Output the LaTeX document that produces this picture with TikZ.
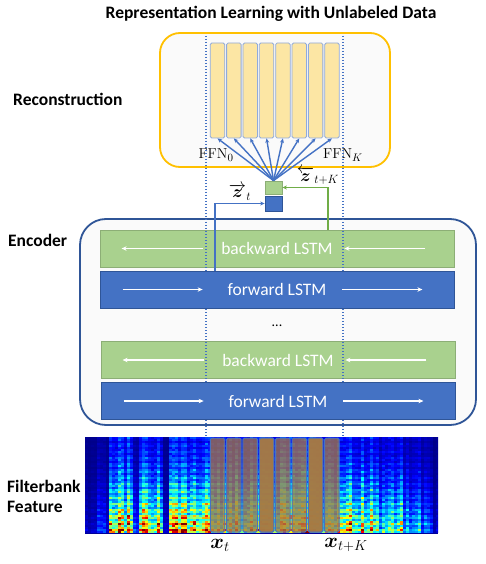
\documentclass[tikz,border=0pt]{standalone}
\usepackage[no-math]{fontspec}
\setmainfont{Carlito}
\usepackage{amsmath}
\usetikzlibrary{arrows.meta}
\definecolor{gfill}{HTML}{A9D18E}
\definecolor{gline}{HTML}{8CAE76}
\definecolor{bfill}{HTML}{4472C4}
\definecolor{bline}{HTML}{2F5597}
\definecolor{orng}{HTML}{FFC000}
\definecolor{ffnfill}{HTML}{FCE6A4}
\definecolor{ffnline}{HTML}{8FAADC}
\definecolor{grn}{HTML}{70AD47}
\definecolor{brwn}{HTML}{A57A45}
\definecolor{panel}{HTML}{FAFAFA}
\definecolor{specbg}{rgb}{0,0,0.6}
\begin{document}
\begin{tikzpicture}[x=1pt,y=-1pt,
  lbl/.style={font=\fontsize{17.5}{20}\selectfont\bfseries, inner sep=0pt},
  reconbox/.style={draw=orng, line width=1.8pt, fill=panel, rounded corners=20pt, minimum width=230pt, minimum height=134pt, inner sep=0pt},
  encbox/.style={draw=bline, line width=1.8pt, fill=panel, rounded corners=26pt, minimum width=396pt, minimum height=206pt, inner sep=0pt},
  bwdbox/.style={draw=gline, line width=0.8pt, fill=gfill, minimum width=354pt, minimum height=37pt, inner sep=0pt, text=white, font=\fontsize{17.5}{20}\selectfont},
  fwdbox/.style={draw=bline, line width=0.8pt, fill=bfill, minimum width=354pt, minimum height=37pt, inner sep=0pt, text=white, font=\fontsize{17.5}{20}\selectfont},
  ffnbox/.style={draw=ffnline, line width=0.8pt, fill=ffnfill, rounded corners=1.5pt, minimum width=14.5pt, minimum height=95pt, inner sep=0pt},
  ovlbox/.style={draw=bfill, line width=1pt, fill=brwn, fill opacity=0.76, rounded corners=1.5pt, minimum width=14.5pt, minimum height=94pt, inner sep=0pt},
  sqg/.style={draw=gline, line width=0.8pt, fill=gfill, minimum width=17pt, minimum height=13pt, inner sep=0pt},
  sqb/.style={draw=bline, line width=0.8pt, fill=bfill, minimum width=17pt, minimum height=15pt, inner sep=0pt},
  ffnarr/.style={draw=bfill, line width=1.4pt, -{Stealth[length=4.5pt,width=4pt]}},
  lstmarr/.style={draw=white, line width=1.3pt, -{Stealth[length=5pt,width=4.5pt]}},
  guide/.style={draw=bfill, line width=1.3pt, dash pattern=on 1.3pt off 1.7pt},
  mathlbl/.style={inner sep=0pt, font=\fontsize{15}{18}\selectfont}
]
\useasboundingbox (0,0) rectangle (486,564);
\fill[white] (0,0) rectangle (486,564);

% title
\node[lbl] (title) at (271,14) {Representation Learning with Unlabeled Data};

% left labels
\node[lbl, anchor=west] (lrec) at (13,99) {Reconstruction};
\node[lbl, anchor=west] (lenc) at (8,240) {Encoder};
\node[lbl, anchor=west] (lfb) at (7,486) {Filterbank};
\node[lbl, anchor=west] (lft) at (7,507) {Feature};

% reconstruction
\node[reconbox] (recon) at (275,100) {};
\foreach \i in {0,...,7}{
  \node[ffnbox] (f\i) at (217.5+16.35*\i,90.5) {};
}
\node[mathlbl] (ffn0) at (216,155) {$\mathrm{FFN}_0$};
\node[mathlbl] (ffnk) at (343,155) {$\mathrm{FFN}_K$};

% encoder
\node[encbox] (enc) at (278,322) {};
\node[bwdbox] (b1) at (277,248.5) {backward LSTM};
\node[fwdbox] (fw1) at (277,289.5) {forward LSTM};
\node[inner sep=0pt, font=\fontsize{14}{16}\selectfont] (dots) at (277,326) {...};
\node[bwdbox] (b2) at (278,360) {backward LSTM};
\node[fwdbox] (fw2) at (278,401) {forward LSTM};
\foreach \n in {b1,b2}{
  \draw[lstmarr] ([xshift=103pt]\n.west) -- ([xshift=22pt]\n.west);
  \draw[lstmarr] ([xshift=-29pt]\n.east) -- ([xshift=-110pt]\n.east);
}
\foreach \n in {fw1,fw2}{
  \draw[lstmarr] ([xshift=23pt]\n.west) -- ([xshift=103pt]\n.west);
  \draw[lstmarr] ([xshift=-112pt]\n.east) -- ([xshift=-32pt]\n.east);
}

% spectrogram
\pgfmathsetseed{11}
\begin{scope}
\clip (85,437) rectangle (438,534);
\fill[specbg] (85,437) rectangle (438,534);
\foreach \c in {0,...,117}{
  \pgfmathsetmacro\xx{85+3*\c}
  \pgfmathsetmacro\E{0.10
   + 0.12*((\xx>96)*(\xx<104))
   + 0.78*((\xx>107)*(\xx<132))
   + 0.12*((\xx>131)*(\xx<138))
   + 0.75*((\xx>137)*(\xx<163))
   + 0.80*((\xx>168)*(\xx<206))
   + 0.70*((\xx>205)*(\xx<344))
   + 0.75*((\xx>343)*(\xx<377))
   + 0.40*((\xx>376)*(\xx<386))
   + 0.62*((\xx>385)*(\xx<401))
   + 0.32*((\xx>400)*(\xx<420))
   + 0.25*((\xx>419)*(\xx<432))}
  \pgfmathsetmacro\Ec{\E*(0.6+0.7*rnd)}
  \pgfmathsetmacro\ph{360*rnd}
  \foreach \r in {0,...,47}{
    \pgfmathsetmacro\v{min(1,max(0,\Ec*(0.2+0.8*((\r+1)/48)^2.0)*(0.8+0.22*sin(\r*110+\ph*0.3))*(0.82+0.36*rnd)))}
    \pgfmathsetmacro\R{max(0,min(1,1.5-abs(4*\v-3)))}
    \pgfmathsetmacro\G{max(0,min(1,1.5-abs(4*\v-2)))}
    \pgfmathsetmacro\B{max(0,min(1,1.5-abs(4*\v-1)))}
    \definecolor{sc}{rgb}{\R,\G,\B}
    \fill[sc] (\xx,437+2*\r) rectangle ++(3.05,2.05);
  }
}
\end{scope}
\node[inner sep=0pt, minimum width=353pt, minimum height=97pt] (spec) at (261.5,485.5) {};
\foreach \i in {0,...,7}{
  \node[ovlbox] (o\i) at (217.5+16.35*\i,485) {};
}
\node[ovlbox, fill opacity=0.9] at (o3) {};
\node[ovlbox, fill opacity=0.93] at (o6) {};
\node[inner sep=0pt, font=\fontsize{22}{24}\selectfont] (xt) at (220,545) {$\boldsymbol{x}_t$};
\node[inner sep=0pt, font=\fontsize{22}{24}\selectfont] (xtk) at (346,545) {$\boldsymbol{x}_{t+K}$};

% guides
\coordinate (g0t) at (206,36);
\coordinate (g0b) at (206,437);
\coordinate (g1t) at (343,36);
\coordinate (g1b) at (343,437);
\draw[guide] (g0t) -- (g0b);
\draw[guide] (g1t) -- (g1b);

% latent squares
\node[sqg] (gsq) at (273.5,187.5) {};
\node[sqb] (bsq) at (273.5,203.5) {};
\foreach \i in {0,...,7}{
  \draw[ffnarr] (gsq.north) -- (f\i.south);
}
\coordinate (zt) at (215,0);
\coordinate (zk) at (328,0);
\draw[draw=bfill, line width=1.4pt, -{Stealth[length=4.5pt,width=4pt]}] (zt |- fw1.north) |- (bsq.west);
\draw[draw=grn, line width=1.4pt, -{Stealth[length=4.5pt,width=4pt]}] (zk |- b1.north) |- (gsq.east);
\node[inner sep=0pt, font=\fontsize{17}{19}\selectfont] (ztl) at (240,192) {$\overrightarrow{\boldsymbol{z}}_t$};
\node[inner sep=0pt, font=\fontsize{17}{19}\selectfont] (ztkl) at (318,176) {$\overleftarrow{\boldsymbol{z}}_{t+K}$};
\end{tikzpicture}
\end{document}
